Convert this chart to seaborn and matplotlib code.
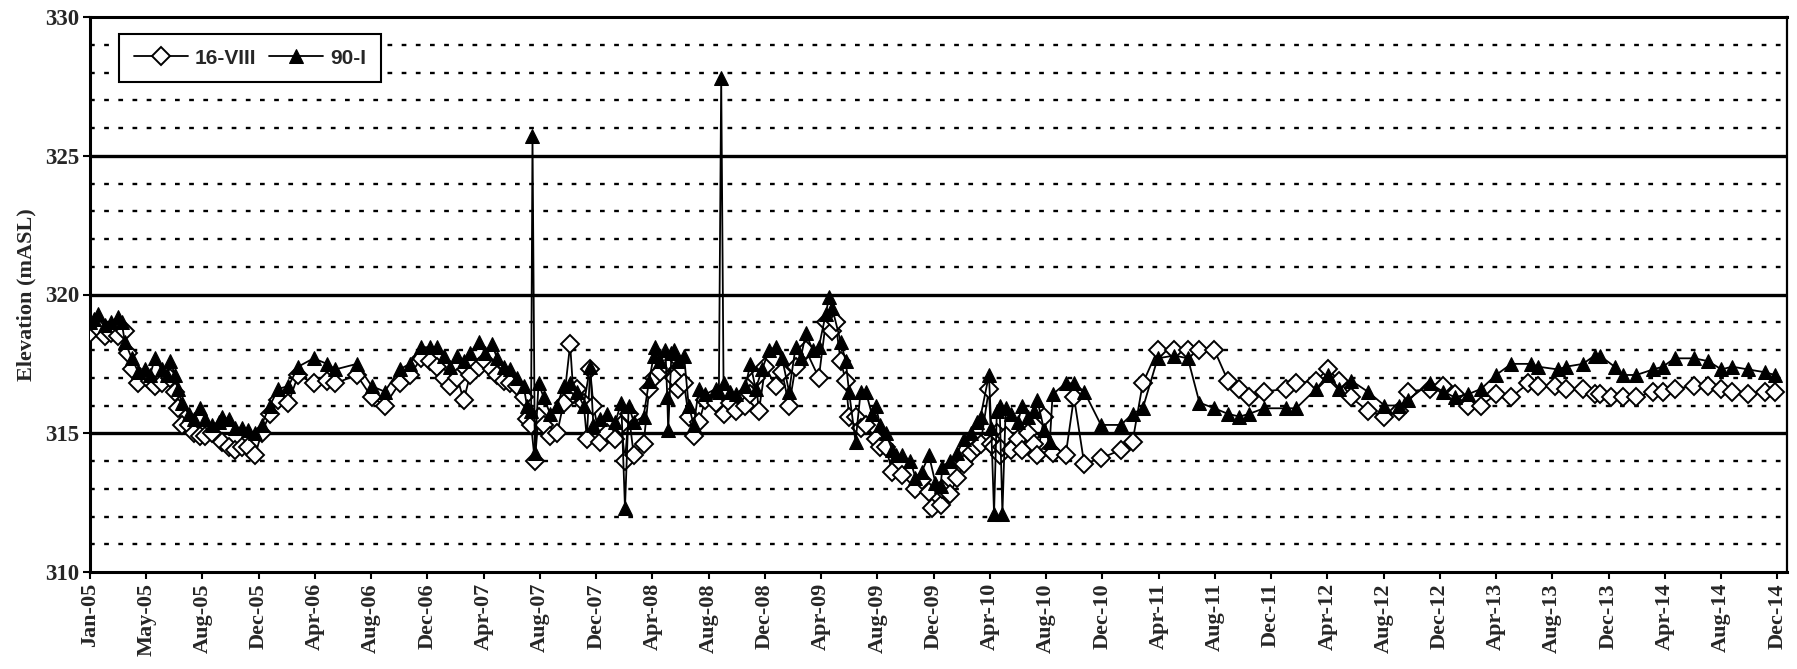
import matplotlib.pyplot as plt
import matplotlib.ticker as mticker
import pandas as pd
import seaborn as sns

# %% data (monitoring wells, elevation in mASL)
dates_16viii = [
    "2005-01-01", "2005-01-19", "2005-02-02", "2005-02-15", "2005-03-03", "2005-03-17",
    "2005-03-24", "2005-04-01", "2005-04-15", "2005-05-10", "2005-05-21", "2005-06-04",
    "2005-06-22", "2005-07-03", "2005-07-10", "2005-07-17", "2005-08-01", "2005-08-12",
    "2005-08-26", "2005-09-06", "2005-09-20", "2005-10-12", "2005-10-26", "2005-11-10",
    "2005-11-24", "2005-12-08", "2005-12-22", "2006-01-05", "2006-01-23", "2006-02-10",
    "2006-03-04", "2006-03-25", "2006-04-27", "2006-05-26", "2006-06-13", "2006-07-29",
    "2006-08-30", "2006-09-27", "2006-10-29", "2006-11-20", "2006-12-15", "2007-01-03",
    "2007-01-18", "2007-02-01", "2007-02-15", "2007-03-02", "2007-03-16", "2007-03-30",
    "2007-04-17", "2007-05-01", "2007-05-16", "2007-05-27", "2007-06-10", "2007-06-24",
    "2007-07-08", "2007-07-23", "2007-07-30", "2007-08-08", "2007-08-16", "2007-08-24",
    "2007-09-04", "2007-09-18", "2007-10-03", "2007-10-17", "2007-10-31", "2007-11-07",
    "2007-11-14", "2007-11-29", "2007-12-06", "2007-12-13", "2007-12-20", "2008-01-04",
    "2008-01-19", "2008-02-05", "2008-02-18", "2008-02-26", "2008-03-05", "2008-03-16",
    "2008-04-06", "2008-04-18", "2008-04-28", "2008-05-12", "2008-05-23", "2008-06-10",
    "2008-06-20", "2008-07-02", "2008-07-12", "2008-07-23", "2008-08-03", "2008-08-17",
    "2008-09-08", "2008-09-25", "2008-10-08", "2008-10-21", "2008-11-11", "2008-11-22",
    "2008-12-03", "2008-12-10", "2008-12-24", "2009-01-15", "2009-01-29", "2009-02-13",
    "2009-02-27", "2009-03-21", "2009-04-18", "2009-05-03", "2009-05-17", "2009-05-24",
    "2009-06-04", "2009-06-15", "2009-06-22", "2009-07-06", "2009-07-17", "2009-07-28",
    "2009-08-18", "2009-08-28", "2009-09-09", "2009-09-23", "2009-10-15", "2009-11-12",
    "2009-11-25", "2009-12-11", "2009-12-18", "2010-01-05", "2010-01-09", "2010-01-25",
    "2010-02-10", "2010-02-25", "2010-03-11", "2010-03-25", "2010-04-01", "2010-04-19",
    "2010-04-24", "2010-04-30", "2010-05-06", "2010-05-12", "2010-05-18", "2010-05-25",
    "2010-06-05", "2010-06-20", "2010-06-30", "2010-07-11", "2010-07-25", "2010-08-01",
    "2010-08-16", "2010-08-28", "2010-09-03", "2010-10-01", "2010-10-19", "2010-11-10",
    "2010-12-16", "2011-01-28", "2011-02-22", "2011-03-16", "2011-04-17", "2011-05-23",
    "2011-06-21", "2011-07-16", "2011-08-17", "2011-09-15", "2011-10-10", "2011-10-31",
    "2011-12-02", "2012-01-18", "2012-02-09", "2012-03-23", "2012-04-17", "2012-05-12",
    "2012-06-06", "2012-07-12", "2012-08-17", "2012-09-18", "2012-10-06", "2012-11-22",
    "2012-12-21", "2013-01-15", "2013-02-12", "2013-03-13", "2013-04-14", "2013-05-17",
    "2013-06-22", "2013-07-13", "2013-08-18", "2013-09-12", "2013-10-18", "2013-11-12",
    "2013-11-23", "2013-12-18", "2014-01-12", "2014-02-10", "2014-03-18", "2014-04-08",
    "2014-05-03", "2014-06-14", "2014-07-14", "2014-08-12", "2014-09-04", "2014-10-08",
    "2014-11-13", "2014-12-05",
]
elev_16viii = [
    318.6, 318.8, 318.5, 318.6, 318.5, 318.7,
    317.9, 317.3, 316.8, 316.9, 316.7, 316.8,
    317.0, 316.5, 315.9, 315.3, 315.3, 315.0,
    314.9, 314.9, 315.0, 314.7, 314.5, 314.4,
    314.5, 314.5, 314.2, 315.0, 315.7, 316.2,
    316.1, 317.1, 316.8, 316.9, 316.8, 317.1,
    316.3, 316.0, 316.8, 317.1, 317.7, 317.6,
    317.4, 317.0, 316.7, 317.0, 316.2, 317.1,
    317.4, 317.6, 317.3, 317.1, 316.9, 316.8,
    316.7, 316.3, 315.5, 315.3, 314.0, 315.6,
    315.3, 314.9, 315.0, 316.1, 318.2, 316.4,
    316.6, 316.1, 314.8, 317.3, 316.0, 314.7,
    315.0, 314.8, 315.3, 314.0, 315.7, 314.2,
    314.6, 316.6, 317.0, 317.2, 317.5, 317.0,
    316.6, 316.8, 315.6, 314.9, 315.4, 316.2,
    316.1, 315.7, 316.1, 315.8, 316.0, 316.4,
    317.0, 315.8, 317.4, 316.7, 317.2, 316.0,
    317.4, 318.0, 317.0, 319.0, 318.7, 319.0,
    317.6, 316.9, 315.6, 315.6, 315.2, 315.3,
    314.8, 314.5, 314.5, 313.6, 313.5, 313.0,
    313.3, 312.9, 312.3, 312.4, 313.0, 312.8,
    313.4, 313.9, 314.3, 314.5, 314.6, 316.6,
    314.6, 314.5, 315.0, 314.2, 314.5, 314.9,
    314.4, 314.8, 314.4, 315.0, 314.6, 314.2,
    315.6, 314.4, 314.3, 314.2, 316.3, 313.9,
    314.1, 314.4, 314.7, 316.8, 318.0, 318.0,
    318.0, 318.0, 318.0, 316.9, 316.6, 316.3,
    316.5, 316.6, 316.8, 316.9, 317.3, 316.9,
    316.3, 315.8, 315.6, 315.8, 316.5, 316.6,
    316.7, 316.4, 316.0, 316.0, 316.4, 316.3,
    316.8, 316.7, 316.7, 316.6, 316.6, 316.4,
    316.4, 316.3, 316.3, 316.3, 316.5, 316.5,
    316.6, 316.7, 316.7, 316.6, 316.5, 316.4,
    316.5, 316.5,
]

dates_90i = [
    "2005-01-01", "2005-01-10", "2005-01-19", "2005-02-02", "2005-02-15", "2005-03-03",
    "2005-03-10", "2005-03-17", "2005-04-01", "2005-04-15", "2005-04-29", "2005-05-10",
    "2005-05-21", "2005-06-04", "2005-06-15", "2005-06-22", "2005-07-03", "2005-07-10",
    "2005-07-17", "2005-08-01", "2005-08-12", "2005-08-26", "2005-09-06", "2005-09-20",
    "2005-10-05", "2005-10-12", "2005-10-26", "2005-11-10", "2005-11-24", "2005-12-08",
    "2005-12-22", "2006-01-05", "2006-01-23", "2006-02-10", "2006-03-04", "2006-03-25",
    "2006-04-27", "2006-05-26", "2006-06-13", "2006-07-29", "2006-08-30", "2006-09-27",
    "2006-10-29", "2006-11-20", "2006-12-15", "2007-01-03", "2007-01-18", "2007-02-01",
    "2007-02-15", "2007-03-02", "2007-03-16", "2007-03-30", "2007-04-17", "2007-05-01",
    "2007-05-16", "2007-05-27", "2007-06-10", "2007-06-24", "2007-07-08", "2007-07-23",
    "2007-07-30", "2007-08-08", "2007-08-11", "2007-08-16", "2007-08-24", "2007-09-04",
    "2007-09-18", "2007-10-03", "2007-10-17", "2007-10-31", "2007-11-14", "2007-11-29",
    "2007-12-13", "2007-12-20", "2008-01-04", "2008-01-19", "2008-02-05", "2008-02-18",
    "2008-02-26", "2008-03-05", "2008-03-16", "2008-04-06", "2008-04-18", "2008-04-28",
    "2008-05-01", "2008-05-12", "2008-05-23", "2008-05-27", "2008-05-29", "2008-06-05",
    "2008-06-10", "2008-06-20", "2008-07-02", "2008-07-12", "2008-07-23", "2008-08-03",
    "2008-08-17", "2008-09-08", "2008-09-15", "2008-09-20", "2008-09-25", "2008-10-08",
    "2008-10-21", "2008-11-11", "2008-11-22", "2008-12-03", "2008-12-17", "2009-01-01",
    "2009-01-15", "2009-01-29", "2009-02-13", "2009-02-27", "2009-03-10", "2009-03-21",
    "2009-04-05", "2009-04-18", "2009-05-03", "2009-05-10", "2009-05-17", "2009-06-04",
    "2009-06-15", "2009-06-22", "2009-07-06", "2009-07-17", "2009-07-28", "2009-08-10",
    "2009-08-18", "2009-08-28", "2009-09-09", "2009-09-23", "2009-10-01", "2009-10-15",
    "2009-11-01", "2009-11-12", "2009-11-25", "2009-12-11", "2009-12-25", "2010-01-05",
    "2010-01-09", "2010-01-25", "2010-02-10", "2010-02-25", "2010-03-11", "2010-03-25",
    "2010-04-01", "2010-04-19", "2010-04-24", "2010-04-30", "2010-05-06", "2010-05-12",
    "2010-05-18", "2010-05-25", "2010-06-05", "2010-06-20", "2010-06-30", "2010-07-11",
    "2010-07-25", "2010-08-01", "2010-08-16", "2010-08-28", "2010-09-03", "2010-10-01",
    "2010-10-19", "2010-11-10", "2010-12-16", "2011-01-28", "2011-02-22", "2011-03-16",
    "2011-04-17", "2011-05-23", "2011-06-21", "2011-07-16", "2011-08-17", "2011-09-15",
    "2011-10-10", "2011-10-31", "2011-12-02", "2012-01-18", "2012-02-09", "2012-03-23",
    "2012-04-17", "2012-05-12", "2012-06-06", "2012-07-12", "2012-08-17", "2012-09-18",
    "2012-10-06", "2012-11-22", "2012-12-21", "2013-01-15", "2013-02-12", "2013-03-13",
    "2013-04-14", "2013-05-17", "2013-06-29", "2013-07-13", "2013-08-25", "2013-09-12",
    "2013-10-18", "2013-11-12", "2013-11-23", "2013-12-25", "2014-01-12", "2014-02-10",
    "2014-03-18", "2014-04-08", "2014-05-03", "2014-06-14", "2014-07-14", "2014-08-12",
    "2014-09-04", "2014-10-08", "2014-11-13", "2014-12-05",
]
elev_90i = [
    319.0, 319.1, 319.3, 318.9, 319.0, 319.2,
    319.0, 318.3, 317.7, 317.2, 317.3, 317.1,
    317.7, 317.3, 317.1, 317.6, 317.1, 316.6,
    316.1, 315.7, 315.5, 315.9, 315.5, 315.3,
    315.4, 315.6, 315.5, 315.2, 315.2, 315.1,
    315.0, 315.3, 316.0, 316.6, 316.7, 317.4,
    317.7, 317.5, 317.3, 317.5, 316.7, 316.5,
    317.3, 317.5, 318.1, 318.1, 318.1, 317.8,
    317.4, 317.8, 317.6, 317.9, 318.3, 317.9,
    318.2, 317.7, 317.4, 317.3, 317.0, 316.7,
    316.0, 315.8, 325.7, 314.3, 316.8, 316.3,
    315.7, 316.0, 316.7, 316.8, 316.5, 316.0,
    317.4, 315.3, 315.5, 315.7, 315.4, 316.1,
    312.3, 316.0, 315.4, 315.6, 316.9, 317.8,
    318.1, 317.6, 318.0, 316.3, 315.1, 317.9,
    318.0, 317.6, 317.8, 316.0, 315.3, 316.6,
    316.4, 316.6, 316.5, 327.8, 316.8, 316.5,
    316.4, 316.7, 317.5, 316.6, 317.3, 318.0,
    318.1, 317.7, 316.5, 318.1, 317.7, 318.6,
    318.0, 318.1, 319.3, 319.9, 319.5, 318.3,
    317.6, 316.5, 314.7, 316.5, 316.5, 315.7,
    316.0, 315.3, 315.0, 314.4, 314.2, 314.2,
    314.0, 313.4, 313.6, 314.2, 313.2, 313.1,
    313.8, 314.0, 314.3, 314.8, 315.0, 315.4,
    315.6, 317.1, 315.2, 312.1, 315.8, 316.0,
    312.1, 315.9, 315.7, 315.4, 316.0, 315.6,
    315.8, 316.2, 315.1, 314.7, 316.4, 316.8,
    316.8, 316.5, 315.3, 315.3, 315.7, 315.9,
    317.7, 317.8, 317.7, 316.1, 315.9, 315.7,
    315.6, 315.7, 315.9, 315.9, 315.9, 316.6,
    317.1, 316.6, 316.9, 316.5, 316.0, 316.0,
    316.2, 316.8, 316.5, 316.3, 316.4, 316.6,
    317.1, 317.5, 317.5, 317.4, 317.3, 317.4,
    317.5, 317.8, 317.8, 317.4, 317.1, 317.1,
    317.3, 317.4, 317.7, 317.7, 317.6, 317.3,
    317.4, 317.3, 317.2, 317.1,
]

assert len(dates_16viii) == len(elev_16viii)
assert len(dates_90i) == len(elev_90i)

# Excel-style date axis: a label every 121 days starting Jan-05
tick_labels = [
    "Jan-05", "May-05", "Aug-05", "Dec-05", "Apr-06", "Aug-06", "Dec-06", "Apr-07",
    "Aug-07", "Dec-07", "Apr-08", "Aug-08", "Dec-08", "Apr-09", "Aug-09", "Dec-09",
    "Apr-10", "Aug-10", "Dec-10", "Apr-11", "Aug-11", "Dec-11", "Apr-12", "Aug-12",
    "Dec-12", "Apr-13", "Aug-13", "Dec-13", "Apr-14", "Aug-14", "Dec-14",
]
tick_dates = pd.date_range("2005-01-01", periods=len(tick_labels), freq="121D")

df_a = pd.DataFrame({"date": pd.to_datetime(dates_16viii), "elev": elev_16viii})
df_b = pd.DataFrame({"date": pd.to_datetime(dates_90i), "elev": elev_90i})

# %% plot
sns.set_style("white")
plt.rcParams["font.family"] = ["Liberation Serif", "DejaVu Serif"]

fig = plt.figure(figsize=(17.97, 6.69), dpi=100)
ax = fig.add_axes([90 / 1797, 1 - 572 / 669, (1787 - 90) / 1797, (572 - 17) / 669])

# grid: dotted every metre, heavy solid every 5 m
for y in range(311, 330):
    if y % 5 == 0:
        ax.axhline(y, color="black", lw=2.4, zorder=1)
    else:
        ax.axhline(y, color="black", lw=1.7, ls=(0, (2, 4)), zorder=1)

sns.lineplot(
    data=df_a, x="date", y="elev", ax=ax, estimator=None, sort=False,
    color="black", lw=1.3, marker="D", markersize=9.5,
    markerfacecolor="white", markeredgecolor="black", markeredgewidth=1.4,
    label="16-VIII", zorder=3,
)
sns.lineplot(
    data=df_b, x="date", y="elev", ax=ax, estimator=None, sort=False,
    color="black", lw=1.3, marker="^", markersize=10.5,
    markerfacecolor="black", markeredgecolor="black",
    label="90-I", zorder=4,
)

ax.set_ylim(310, 330)
ax.set_xlim(pd.Timestamp("2005-01-01"), pd.Timestamp("2014-12-31"))
ax.yaxis.set_major_locator(mticker.MultipleLocator(5))
ax.set_xticks(tick_dates)
ax.set_xticklabels(tick_labels, rotation=90, fontsize=16, fontweight="bold")
for lab in ax.get_yticklabels():
    lab.set_fontsize(16.5)
    lab.set_fontweight("bold")
ax.tick_params(axis="both", direction="out", length=5, width=1.5, color="black", pad=3,
               bottom=True, left=True)

ax.set_xlabel("")
ax.set_ylabel("Elevation (mASL)", fontsize=16, fontweight="bold", labelpad=6)

for side in ["top", "left", "bottom"]:
    ax.spines[side].set_linewidth(2.2)
    ax.spines[side].set_color("black")
ax.spines["right"].set_linewidth(1.6)
ax.spines["right"].set_color("black")

leg = ax.legend(
    loc="upper left", bbox_to_anchor=(29 / 1697, 1 - 17 / 555), ncol=2,
    borderaxespad=0, frameon=True, fancybox=False, edgecolor="black", framealpha=1,
    handlelength=2.6, columnspacing=0.6, handletextpad=0.35, borderpad=0.7,
    prop={"family": "Liberation Sans", "weight": "bold", "size": 15},
)
leg.get_frame().set_linewidth(1.5)
leg.set_zorder(10)

fig.savefig("out.png", dpi=100)
